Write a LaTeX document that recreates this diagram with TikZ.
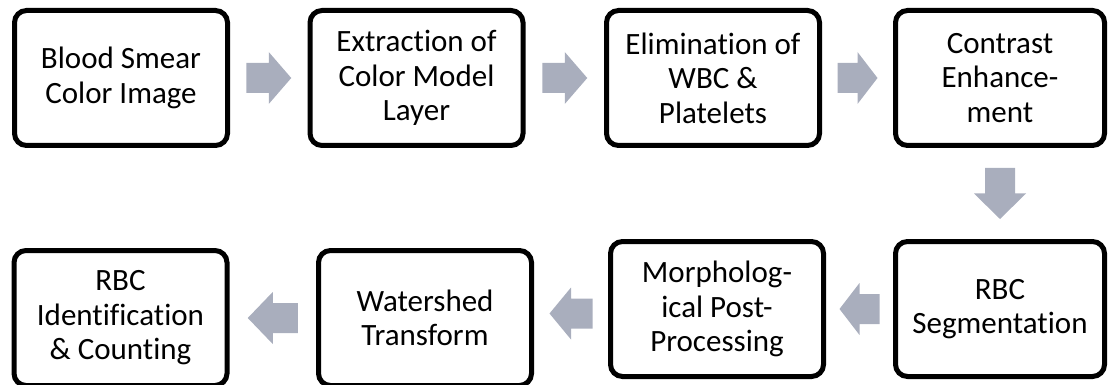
\documentclass[tikz,border=0pt]{standalone}
\usepackage{fontspec}
\setmainfont{Carlito}[Ligatures=NoCommon]
\usetikzlibrary{calc}
\definecolor{arrowfill}{RGB}{169,174,189}
\tikzset{
  stepbox/.style={draw=black, line width=5pt, rounded corners=12pt, fill=white,
    minimum width=213pt, minimum height=135pt, align=center, inner sep=0pt,
    font=\fontsize{31}{34.5}\selectfont},
  narrowbox/.style={stepbox, minimum width=209pt},
  % block arrow of given length, pointing along +x before rotation
  pics/barrow/.style={code={
    \fill[arrowfill] (-#1/2,-15) -- (0,-15) -- (0,-26) -- (#1/2,0)
      -- (0,26) -- (0,15) -- (-#1/2,15) -- cycle;}}
}
\begin{document}
\begin{tikzpicture}[x=1pt,y=-1pt]
\useasboundingbox (0,0) rectangle (1109,385);

% top row
\node[stepbox] (b1) at (121,78) {Blood Smear\\Color Image};
\node[stepbox] (b2) at (416.5,78) {Extraction of\\Color Model\\Layer};
\node[stepbox] (b3) at (713,78) {Elimination of\\WBC \&\\Platelets};
\node[narrowbox] (b4) at (1000,78) {Contrast\\Enhance-\\ment};

% bottom row
\node[narrowbox] (b5) at (1000,309) {RBC\\Segmentation};
\node[stepbox] (b6) at (717,309) {Morpholog-\\ical Post-\\Processing};
\node[stepbox] (b7) at (425,318) {Watershed\\Transform};
\node[stepbox] (b8) at (120.5,318) {RBC\\Identification\\\& Counting};

% block arrows between steps
\pic at ($(b1.east)!.5!(b2.west)$) {barrow=45};
\pic at ($(b2.east)!.5!(b3.west)$) {barrow=45};
\pic at ($(b3.east)!.5!(b4.west)$) {barrow=40};
\pic[rotate=-90] at ($(b4.south)!.5!(b5.north)$) {barrow=51};
\pic[rotate=180] at ($(b5.west)!.5!(b6.east)$) {barrow=40};
\pic[rotate=180] at ($(b6.west)!.5!(b7.east)$) {barrow=43};
\pic[rotate=180] at ($(b7.west)!.5!(b8.east)$) {barrow=50};
\end{tikzpicture}
\end{document}
